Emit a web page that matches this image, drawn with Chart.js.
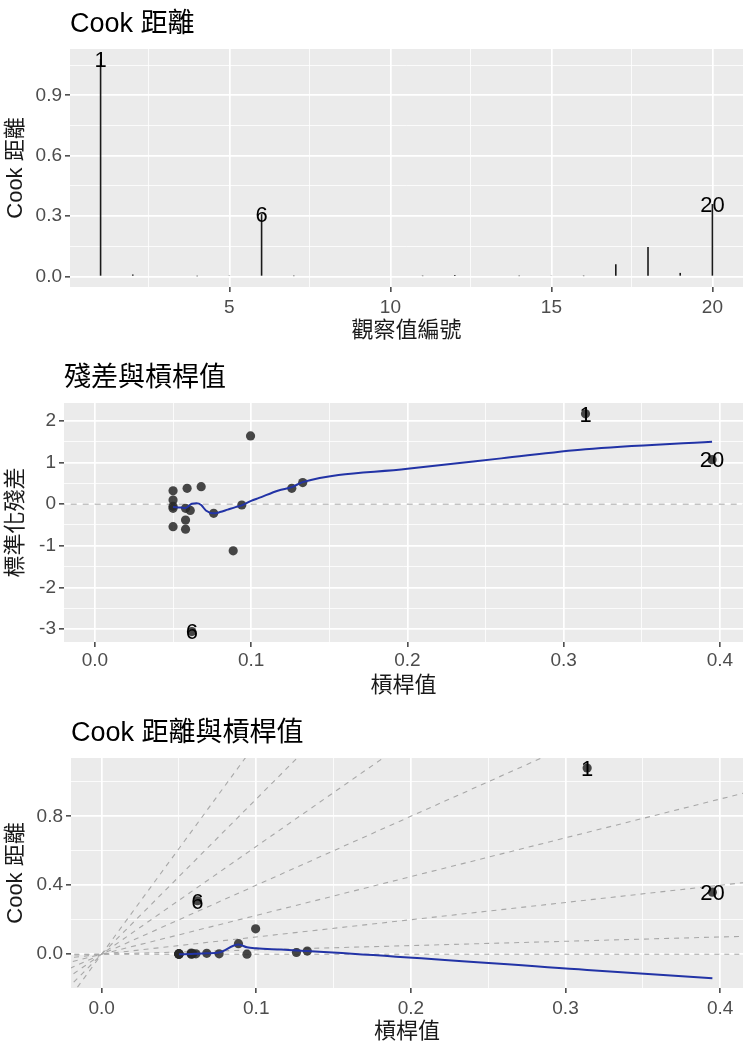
<!DOCTYPE html>
<html>
<head>
<meta charset="utf-8">
<script src="https://cdn.jsdelivr.net/npm/chart.js@4.4.1/dist/chart.umd.min.js"></script>
<style>
  html, body { margin: 0; padding: 0; background: #ffffff; }
  .panel { position: absolute; left: 0; width: 750px; height: 350px; }
</style>
</head>
<body>
<div class="panel" style="top:0px"><canvas id="cookChart"></canvas></div>
<div class="panel" style="top:350px"><canvas id="residChart"></canvas></div>
<div class="panel" style="top:700px"><canvas id="cookLevChart"></canvas></div>

<script>
const FONT = '"Liberation Sans", "Noto Sans CJK TC", sans-serif';

// --- data, one entry per observation ---
const obsIds    = [1, 2, 3, 4, 5, 6, 7, 8, 9, 10, 11, 12, 13, 14, 15, 16, 17, 18, 19, 20];
const leverage  = [0.314, 0.126, 0.050, 0.076, 0.050, 0.062, 0.061, 0.050, 0.050, 0.058,
                   0.058, 0.058, 0.094, 0.059, 0.068, 0.050, 0.0885, 0.0996, 0.133, 0.395];
const stdResid  = [2.17, 0.38, 0.10, -0.22, 0.32, -3.06, -0.15, -0.05, -0.10, -0.10,
                   -0.38, -0.60, -0.02, 0.38, 0.42, -0.54, -1.12, 1.64, 0.52, 1.07];
const cookDist  = [1.08, 0.010, 0.000, 0.002, 0.003, 0.31, 0.002, 0.000, 0.000, 0.000,
                   0.002, 0.007, 0.000, 0.002, 0.005, 0.002, 0.061, 0.147, 0.018, 0.36];
const labeledObs = [1, 6, 20];

// loess smooth curves
const residSmoothX = [0.050, 0.055, 0.058, 0.062, 0.065, 0.068, 0.071, 0.076, 0.080, 0.085, 0.090, 0.094,
                      0.100, 0.105, 0.1175, 0.126, 0.133, 0.200, 0.260, 0.314, 0.395];
const residSmoothY = [-0.07, -0.08, -0.09, 0.01, 0.02, -0.02, -0.15, -0.22, -0.19, -0.13, -0.07, -0.03,
                      0.08, 0.15, 0.33, 0.41, 0.53, 0.85, 1.10, 1.32, 1.50];
const cookSmoothX = [0.050, 0.058, 0.062, 0.068, 0.076, 0.0885, 0.094, 0.100, 0.116, 0.126, 0.133, 0.314, 0.395];
const cookSmoothY = [0.000, 0.001, 0.003, 0.005, 0.010, 0.056, 0.040, 0.034, 0.027, 0.022, 0.019, -0.091, -0.140];

// dashed reference lines through the origin (slope = r^2 for r = 0, 0.5, ..., 3.5)
const abSlopes = [0, 0.25, 1, 2.25, 4, 6.25, 9, 12.25];

// ticks
const obsMajor = [5, 10, 15, 20];
const obsMinor = [2.5, 7.5, 12.5, 17.5];
const cookMajor = [0, 0.3, 0.6, 0.9];
const cookMinor = [0.15, 0.45, 0.75, 1.05];
const levMajor = [0, 0.1, 0.2, 0.3, 0.4];
const levMinor = [0.05, 0.15, 0.25, 0.35];
const residMajor = [-3, -2, -1, 0, 1, 2];
const residMinor = [-2.5, -1.5, -0.5, 0.5, 1.5];
const cookLevMajor = [0, 0.4, 0.8];
const cookLevMinor = [0.2, 0.6, 1.0];

// --- plugins ---
const panelPlugin = {
    id: 'panel',
    beforeDraw(chart) {
        const a = chart.chartArea;
        const ctx = chart.ctx;
        ctx.save();
        ctx.fillStyle = '#ebebeb';
        ctx.fillRect(a.left, a.top, a.right - a.left, a.bottom - a.top);
        ctx.restore();
    },
    afterDraw(chart, args, opts) {
        const a = chart.chartArea;
        const ctx = chart.ctx;
        ctx.save();
        ctx.font = '27px ' + FONT;
        ctx.fillStyle = '#000000';
        ctx.textAlign = 'left';
        ctx.textBaseline = 'middle';
        ctx.fillText(opts.title, a.left, a.top - 24);
        ctx.restore();
    }
};

const labelPlugin = {
    id: 'obsLabels',
    afterDatasetsDraw(chart, args, opts) {
        const ctx = chart.ctx;
        const xs = chart.scales.x, ys = chart.scales.y;
        ctx.save();
        ctx.font = '22px ' + FONT;
        ctx.fillStyle = '#000000';
        ctx.textAlign = 'center';
        ctx.textBaseline = 'alphabetic';
        opts.items.forEach(it => {
            ctx.fillText(it.text, xs.getPixelForValue(it.x), ys.getPixelForValue(it.y) + 7.8);
        });
        ctx.restore();
    }
};

function makeAxis(o) {
    const isMajor = v => o.major.some(m => Math.abs(m - v) < 1e-9);
    return {
        type: 'linear',
        min: o.min,
        max: o.max,
        offset: false,
        afterBuildTicks: s => {
            s.ticks = o.major.concat(o.minor).sort((a, b) => a - b).map(v => ({ value: v }));
        },
        afterFit: s => {
            if (o.width != null) s.width = o.width;
            if (o.height != null) s.height = o.height;
        },
        grid: {
            color: '#ffffff',
            lineWidth: c => (c.tick && isMajor(c.tick.value)) ? 1.7 : 0.8,
            tickColor: c => (c.tick && isMajor(c.tick.value)) ? '#333333' : 'rgba(0,0,0,0)',
            tickLength: 5,
            tickWidth: 1.4,
            offset: false
        },
        border: { display: false },
        ticks: {
            autoSkip: false,
            maxRotation: 0,
            padding: o.pad,
            color: '#4d4d4d',
            font: { family: FONT, size: 19 },
            callback: v => isMajor(v) ? o.fmt(v) : ''
        },
        title: {
            display: true,
            text: o.title,
            color: '#1a1a1a',
            font: { family: FONT, size: 22 },
            padding: o.titlePad
        }
    };
}

const labelItems = (xArr, yArr) => labeledObs.map(id => ({ x: xArr[id - 1], y: yArr[id - 1], text: String(id) }));
const pairs = (xs, ys) => xs.map((x, i) => ({ x: x, y: ys[i] }));

const baseOptions = (padTop) => ({
    responsive: true,
    maintainAspectRatio: false,
    animation: false,
    layout: { padding: { top: padTop, right: 7, bottom: 0, left: 0 } },
    plugins: { legend: { display: false }, tooltip: { enabled: false } }
});

// --- 1. Cook distance by observation ---
const opt1 = baseOptions(49);
opt1.plugins.panel = { title: 'Cook 距離' };
opt1.plugins.obsLabels = { items: labelItems(obsIds, cookDist) };
opt1.scales = {
    x: makeAxis({ min: 0.05, max: 20.95, major: obsMajor, minor: obsMinor, fmt: v => String(v),
                  height: 63, pad: 4, title: '觀察值編號', titlePad: { top: 2, bottom: 6 } }),
    y: makeAxis({ min: -0.052, max: 1.13, major: cookMajor, minor: cookMinor, fmt: v => v.toFixed(1),
                  width: 70, pad: 3, title: 'Cook 距離', titlePad: { top: 3, bottom: 2 } })
};
new Chart(document.getElementById('cookChart'), {
    type: 'bar',
    data: {
        datasets: [{
            data: pairs(obsIds, cookDist),
            backgroundColor: '#1a1a1a',
            barThickness: 1.6,
            inflateAmount: 0
        }]
    },
    options: opt1,
    plugins: [panelPlugin, labelPlugin]
});

// --- 2. residuals vs leverage ---
const opt2 = baseOptions(53);
opt2.plugins.panel = { title: '殘差與槓桿值' };
opt2.plugins.obsLabels = { items: labelItems(leverage, stdResid) };
opt2.scales = {
    x: makeAxis({ min: -0.0198, max: 0.4148, major: levMajor, minor: levMinor, fmt: v => v.toFixed(1),
                  height: 58, pad: 2, title: '槓桿值', titlePad: { top: 2, bottom: 1 } }),
    y: makeAxis({ min: -3.31, max: 2.43, major: residMajor, minor: residMinor, fmt: v => String(v),
                  width: 64, pad: 3, title: '標準化殘差', titlePad: { top: 3, bottom: 2 } })
};
new Chart(document.getElementById('residChart'), {
    type: 'scatter',
    data: {
        datasets: [
            {
                data: pairs(residSmoothX, residSmoothY),
                showLine: true, borderColor: '#2233a6', borderWidth: 2,
                cubicInterpolationMode: 'monotone', pointRadius: 0, clip: 0, order: 1
            },
            {
                data: pairs(leverage, stdResid),
                pointRadius: 4.6, pointBackgroundColor: 'rgba(40,40,40,0.85)', pointBorderWidth: 0, order: 2
            },
            {
                data: [{ x: -0.1, y: 0 }, { x: 0.5, y: 0 }],
                showLine: true, borderColor: '#b3b3b3', borderWidth: 1.2, borderDash: [6, 6],
                pointRadius: 0, clip: 0, order: 3
            }
        ]
    },
    options: opt2,
    plugins: [panelPlugin, labelPlugin]
});

// --- 3. Cook distance vs leverage ---
const opt3 = baseOptions(58);
opt3.plugins.panel = { title: 'Cook 距離與槓桿值' };
opt3.plugins.obsLabels = { items: labelItems(leverage, cookDist) };
opt3.scales = {
    x: makeAxis({ min: -0.0198, max: 0.4148, major: levMajor, minor: levMinor, fmt: v => v.toFixed(1),
                  height: 62, pad: 4, title: '槓桿值', titlePad: { top: 2, bottom: 5 } }),
    y: makeAxis({ min: -0.196, max: 1.138, major: cookLevMajor, minor: cookLevMinor, fmt: v => v.toFixed(1),
                  width: 71, pad: 3, title: 'Cook 距離', titlePad: { top: 3, bottom: 2 } })
};
const abLines = abSlopes.map(s => ({
    data: [{ x: -0.05, y: -0.05 * s }, { x: 0.45, y: 0.45 * s }],
    showLine: true, borderColor: '#a8a8a8', borderWidth: 1.1, borderDash: [5, 5],
    pointRadius: 0, clip: 0, order: 3
}));
new Chart(document.getElementById('cookLevChart'), {
    type: 'scatter',
    data: {
        datasets: [
            {
                data: pairs(cookSmoothX, cookSmoothY),
                showLine: true, borderColor: '#2233a6', borderWidth: 2,
                cubicInterpolationMode: 'monotone', pointRadius: 0, clip: 0, order: 1
            },
            {
                data: pairs(leverage, cookDist),
                pointRadius: 4.6, pointBackgroundColor: 'rgba(40,40,40,0.85)', pointBorderWidth: 0, order: 2
            }
        ].concat(abLines)
    },
    options: opt3,
    plugins: [panelPlugin, labelPlugin]
});
</script>
</body>
</html>
